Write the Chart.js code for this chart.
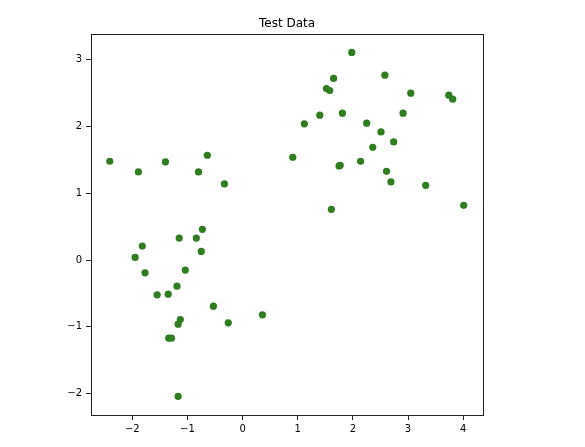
<!DOCTYPE html>
<html>
<head>
<meta charset="utf-8">
<script src="https://cdn.jsdelivr.net/npm/chart.js@4"></script>
<style>
  html, body { margin: 0; padding: 0; background: #fff; }
</style>
</head>
<body>
<canvas id="myChart" width="585" height="447"></canvas>
<script>
const xValues = [
  -2.41, -1.89, -1.40, -0.80, -0.64, -0.33,
  -0.73, -1.15, -0.84, -1.82, -0.75, -1.95, -1.77, -1.04, -1.19, -1.55, -1.35,
  -0.53, 0.36, -0.26, -1.13, -1.17, -1.34, -1.29, -1.17,
  1.98, 1.65, 2.58, 1.52, 1.58, 3.05, 3.74, 3.81, 1.40, 1.81, 1.12, 2.91,
  2.25, 2.51, 2.74, 2.36, 0.91, 1.77, 1.75, 2.14, 2.61, 2.69, 3.32, 4.01, 1.61
];
const yValues = [
  1.48, 1.32, 1.47, 1.32, 1.57, 1.14,
  0.46, 0.33, 0.33, 0.21, 0.13, 0.04, -0.19, -0.15, -0.39, -0.52, -0.51,
  -0.69, -0.82, -0.94, -0.89, -0.96, -1.17, -1.17, -2.04,
  3.11, 2.72, 2.77, 2.57, 2.54, 2.50, 2.47, 2.41, 2.17, 2.20, 2.04, 2.20,
  2.05, 1.92, 1.77, 1.69, 1.54, 1.42, 1.41, 1.48, 1.33, 1.17, 1.12, 0.82, 0.76
];
const title = 'Test Data';

const points = xValues.map((x, i) => ({ x: x, y: yValues[i] }));

const minusSign = function (value) {
  return String(value).replace('-', '\u2212');
};

// top and right spines
const frame = {
  id: 'frame',
  afterDraw(chart) {
    const a = chart.chartArea;
    const ctx = chart.ctx;
    ctx.save();
    ctx.strokeStyle = '#222';
    ctx.lineWidth = 1;
    ctx.strokeRect(Math.round(a.left) + 0.5, Math.round(a.top) + 0.5,
      Math.round(a.right - a.left), Math.round(a.bottom - a.top));
    ctx.restore();
  }
};

Chart.defaults.font.family = 'DejaVu Sans';
Chart.defaults.color = '#000';

new Chart(document.getElementById('myChart'), {
  type: 'scatter',
  data: {
    datasets: [{
      data: points,
      backgroundColor: '#2e7d1f',
      borderWidth: 0,
      pointRadius: 3.6,
      pointHoverRadius: 3.6
    }]
  },
  options: {
    responsive: false,
    animation: false,
    layout: { padding: { left: 0, right: 102, top: 0, bottom: 0 } },
    plugins: {
      legend: { display: false },
      tooltip: { enabled: false },
      title: {
        display: true,
        fullSize: false, // centre over the plot area only
        text: title,
        color: '#000',
        font: { size: 12, weight: 'normal' },
        padding: { top: 17, bottom: 3 }
      }
    },
    scales: {
      x: {
        type: 'linear',
        min: -2.75,
        max: 4.36,
        afterFit: (scale) => { scale.height = 32; },
        border: { display: true, color: '#222' },
        grid: { drawOnChartArea: false, drawTicks: true, tickLength: 5, color: '#222' },
        ticks: { stepSize: 1, includeBounds: false, font: { size: 10 }, padding: 3, callback: minusSign, maxRotation: 0 }
      },
      y: {
        type: 'linear',
        min: -2.32,
        max: 3.38,
        afterFit: (scale) => { scale.width = 91; },
        border: { display: true, color: '#222' },
        grid: { drawOnChartArea: false, drawTicks: true, tickLength: 5, color: '#222' },
        ticks: { stepSize: 1, includeBounds: false, font: { size: 10 }, padding: 4, callback: minusSign }
      }
    }
  },
  plugins: [frame]
});
</script>
</body>
</html>
